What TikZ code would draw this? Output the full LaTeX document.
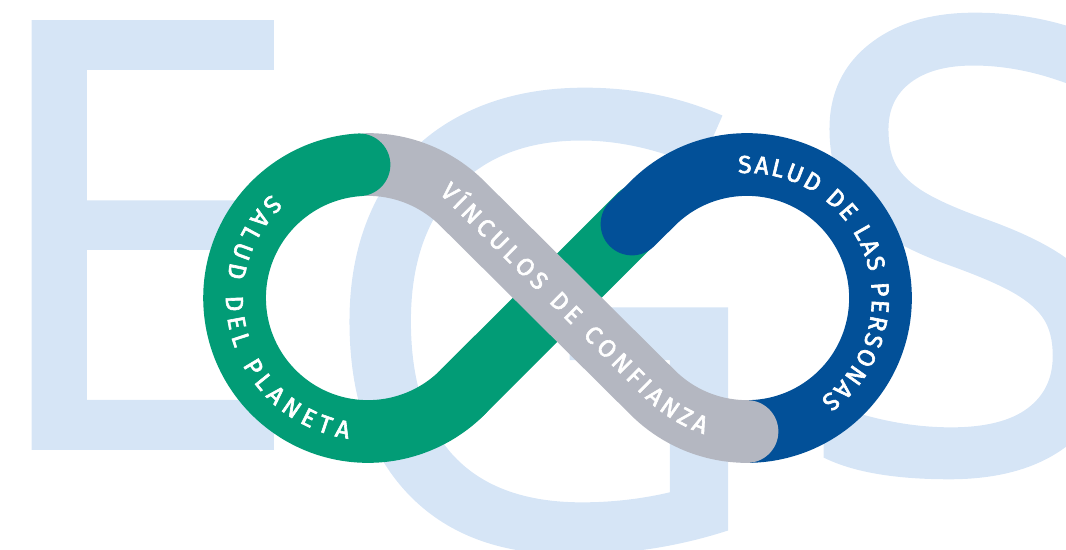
\documentclass[tikz,border=0pt]{standalone}
\usepackage{fontspec}
\usetikzlibrary{decorations.text}
\newfontfamily\letterfont[FakeBold=1]{Open Sans}
\newfontfamily\ribbonfont[FakeBold=2.5]{Fira Sans}
\definecolor{letterblue}{RGB}{214,229,246}
\definecolor{planetgreen}{RGB}{2,156,118}
\definecolor{peopleblue}{RGB}{2,80,152}
\definecolor{trustgray}{RGB}{180,183,193}
\tikzset{
  bigletter/.style={inner sep=0pt, anchor=base west, text=letterblue},
  ribbon/.style={line width=35.7pt, line cap=round},
  ribbontext/.style={decorate, decoration={text along path, text align={fit to path}, text color=white}}
}
\begin{document}
\begin{tikzpicture}[x=0.02cm,y=0.02cm]
\useasboundingbox (0,0) rectangle (1066,-549);
\clip (0,0) rectangle (1066,-549);
\node [bigletter] (letterE) at (-24,-447) {\fontsize{338}{338}\letterfont E};
\node [bigletter] (letterG) at (314,-545) {\fontsize{357}{357}\letterfont G};
\node [bigletter] (letterS) at (794,-470) {\fontsize{357}{357}\letterfont S};
\draw [ribbon, planetgreen] (462.4,-392.4) -- (640,-215);
\draw [ribbon, peopleblue] (632,-224) -- (652.6,-203.6) arc (135:-90:133.5);
\draw [ribbon, trustgray] (368,-164.5) arc (90:45:133.5) -- (652.6,-392.4) arc (225:270:133.5);
\draw [ribbon, planetgreen] (359,-164.8) arc (93.9:315:133.5);
\path [ribbontext, decoration={text={|\ribbonfont\fontsize{14}{14}\selectfont|SALUD DEL PLANETA}}]
  ([shift=(133:142)]368,-298) arc (133:262:142);
\path [ribbontext, decoration={text={|\ribbonfont\fontsize{14}{14}\selectfont|SALUD DE LAS PERSONAS}}]
  ([shift=(94:125)]747,-298) arc (94:-54:125);
\path [ribbontext, decoration={text={|\ribbonfont\fontsize{14}{14}\selectfont|VÍNCULOS DE CONFIANZA}}]
  (439,-193) -- (640,-393) .. controls (660,-413) and (680,-426) .. (704,-434);
\end{tikzpicture}
\end{document}
